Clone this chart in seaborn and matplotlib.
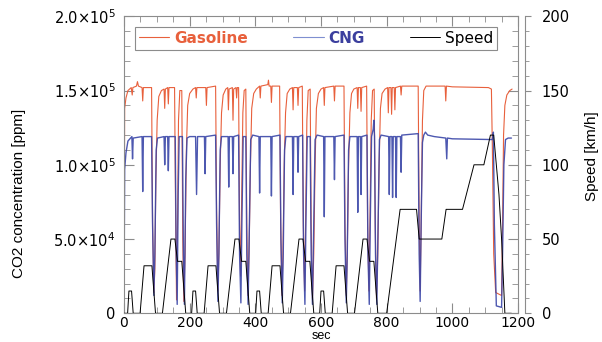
import numpy as np
import pandas as pd
import matplotlib
matplotlib.use("Agg")
import matplotlib.pyplot as plt
from matplotlib.ticker import MultipleLocator, FuncFormatter
from matplotlib.lines import Line2D
import seaborn as sns

# CO2 concentration in the exhaust, gasoline engine (sec, ppm) - breakpoints
gasoline = [
    (0, 4000), (2, 138000), (6, 145000), (12, 150000), (22, 152000), (25, 147000), (27, 152000),
    (38, 153000), (41, 156000), (44, 153000), (55, 152000), (57, 143000), (59, 152000), (84, 152000),
    (87, 60000), (91, 14000), (94, 30000), (97, 90000), (101, 130000), (106, 146000), (114, 150000),
    (122, 151000), (124, 138000), (126, 151000), (133, 152000), (135, 141000), (137, 152000),
    (154, 152000), (157, 70000), (160, 9000), (163, 60000), (166, 130000), (170, 150000),
    (176, 150000), (179, 50000), (182, 8000), (186, 40000), (190, 110000), (194, 140000),
    (200, 148000), (210, 151000), (218, 152000), (220, 145000), (222, 152000), (249, 152000),
    (251, 140000), (253, 152000), (279, 153000), (282, 70000), (286, 15000), (289, 40000),
    (293, 100000), (297, 135000), (302, 147000), (310, 151000), (316, 152000), (318, 137000),
    (320, 151000), (330, 152000), (332, 130000), (334, 151000), (341, 152000), (343, 145000),
    (345, 152000), (349, 152000), (352, 60000), (355, 25000), (358, 70000), (362, 135000),
    (366, 150000), (371, 151000), (374, 60000), (377, 12000), (381, 40000), (385, 100000),
    (389, 138000), (395, 148000), (403, 151000), (413, 153000), (415, 145000), (417, 153000),
    (438, 154000), (440, 157000), (442, 153000), (447, 153000), (449, 142000), (451, 153000),
    (474, 153000), (477, 60000), (481, 12000), (484, 40000), (488, 100000), (492, 135000),
    (497, 148000), (505, 151000), (513, 152000), (515, 137000), (517, 152000), (528, 152000),
    (530, 140000), (532, 152000), (543, 153000), (546, 60000), (550, 15000), (553, 60000),
    (557, 130000), (561, 150000), (567, 151000), (570, 60000), (574, 10000), (578, 40000),
    (582, 100000), (586, 138000), (592, 148000), (600, 151000), (608, 152000), (610, 140000),
    (612, 152000), (639, 153000), (641, 143000), (643, 153000), (670, 153000), (673, 60000),
    (677, 12000), (680, 40000), (684, 100000), (688, 135000), (693, 148000), (700, 151000),
    (710, 152000), (712, 138000), (714, 152000), (720, 152000), (722, 136000), (724, 152000),
    (739, 153000), (742, 60000), (746, 15000), (749, 60000), (753, 130000), (757, 150000),
    (762, 151000), (765, 60000), (769, 10000), (773, 40000), (777, 100000), (781, 138000),
    (786, 148000), (795, 151000), (803, 152000), (805, 135000), (807, 152000), (813, 152000),
    (815, 134000), (817, 152000), (823, 152000), (825, 137000), (827, 152000), (842, 153000),
    (844, 147000), (846, 153000), (896, 153000), (899, 60000), (902, 15000), (905, 60000),
    (909, 130000), (913, 150000), (920, 153000), (978, 153000), (980, 143000), (982, 153000),
    (1000, 152500), (1110, 152000), (1119, 151000), (1122, 110000), (1126, 40000), (1132, 14000),
    (1150, 12000), (1153, 60000), (1156, 120000), (1160, 140000), (1166, 147000), (1175, 150000),
    (1182, 151000),
]

# CO2 concentration in the exhaust, CNG engine (sec, ppm)
cng = [
    (0, 4000), (2, 97000), (6, 108000), (12, 116000), (20, 118000), (24, 119000), (26, 104000),
    (28, 118000), (55, 119000), (57, 82000), (59, 119000), (84, 119000), (87, 60000), (91, 12000),
    (94, 40000), (98, 110000), (102, 118000), (122, 119000), (124, 100000), (126, 119000),
    (133, 119000), (135, 96000), (137, 119000), (156, 119000), (159, 40000), (162, 6000),
    (165, 80000), (168, 119000), (178, 119000), (181, 40000), (184, 6000), (188, 90000),
    (192, 118000), (200, 119000), (218, 119000), (221, 80000), (224, 119000), (245, 119000),
    (247, 94000), (249, 119000), (279, 120000), (282, 60000), (286, 8000), (289, 40000),
    (293, 110000), (297, 119000), (317, 119000), (319, 85000), (321, 119000), (330, 119000),
    (332, 94000), (334, 119000), (349, 120000), (352, 40000), (356, 7000), (359, 60000),
    (363, 119000), (371, 119000), (374, 40000), (378, 6000), (382, 60000), (386, 117000),
    (392, 120000), (411, 119000), (413, 81000), (415, 119000), (447, 119000), (449, 79000),
    (451, 119000), (475, 120000), (478, 50000), (482, 7000), (485, 40000), (489, 110000),
    (493, 119000), (513, 119000), (515, 80000), (517, 119000), (528, 119000), (530, 95000),
    (532, 119000), (544, 120000), (547, 40000), (551, 6000), (554, 60000), (558, 119000),
    (567, 119000), (570, 40000), (574, 6000), (578, 60000), (582, 117000), (588, 120000),
    (608, 119000), (610, 65000), (612, 119000), (639, 119000), (641, 90000), (643, 119000),
    (670, 120000), (673, 50000), (677, 7000), (680, 40000), (684, 110000), (688, 119000),
    (710, 119000), (712, 68000), (714, 119000), (720, 119000), (722, 80000), (724, 119000),
    (740, 120000), (743, 40000), (747, 6000), (750, 60000), (754, 119000), (759, 124000),
    (761, 130000), (763, 119000), (766, 40000), (770, 6000), (774, 60000), (778, 117000),
    (783, 120000), (806, 119000), (808, 80000), (810, 119000), (816, 119000), (818, 78000),
    (820, 119000), (827, 119000), (829, 78000), (831, 119000), (842, 119000), (844, 95000),
    (846, 120000), (896, 121000), (899, 40000), (902, 8000), (905, 60000), (909, 115000),
    (913, 120000), (918, 122000), (925, 120000), (945, 119000), (980, 118000), (983, 104000),
    (985, 118000), (1000, 117500), (1110, 117000), (1122, 117000), (1125, 122000), (1128, 60000),
    (1134, 5000), (1150, 4000), (1153, 40000), (1157, 100000), (1162, 117000), (1170, 118000),
    (1180, 118000),
]

# vehicle speed (sec, km/h) - NEDC profile
speed = [
    (0, 0), (11, 0), (15, 15), (23, 15), (28, 0), (49, 0), (61, 32), (85, 32), (96, 0),
    (117, 0), (143, 50), (155, 50), (163, 35), (176, 35), (188, 0),
    (206, 0), (210, 15), (218, 15), (223, 0), (244, 0), (256, 32), (280, 32), (291, 0),
    (312, 0), (338, 50), (350, 50), (358, 35), (371, 35), (383, 0),
    (401, 0), (405, 15), (413, 15), (418, 0), (439, 0), (451, 32), (475, 32), (486, 0),
    (507, 0), (533, 50), (545, 50), (553, 35), (566, 35), (578, 0),
    (596, 0), (600, 15), (608, 15), (613, 0), (634, 0), (646, 32), (670, 32), (681, 0),
    (702, 0), (728, 50), (740, 50), (748, 35), (761, 35), (773, 0),
    (800, 0), (841, 70), (891, 70), (899, 50), (968, 50), (981, 70), (1031, 70),
    (1066, 100), (1096, 100), (1116, 120), (1126, 120), (1142, 80), (1150, 50), (1160, 0),
    (1180, 0),
]

series_names = ["Gasoline", "CNG", "Speed"]
GAS = "#e8603c"
CNG = "#3a46a8"
AXC = "#8c8c8c"

sns.set_style("ticks")
plt.rcParams["font.family"] = ["DejaVu Sans"]

gas_df = pd.DataFrame(gasoline, columns=["sec", "co2"])
cng_df = pd.DataFrame(cng, columns=["sec", "co2"])
spd_df = pd.DataFrame(speed, columns=["sec", "kmh"])

# plot box in pixels: x 124..518, y 16.3..313.3 (from top)
fig = plt.figure(figsize=(6.02, 3.42), dpi=100)
ax = fig.add_axes([124 / 602, 1 - 313.3 / 342, 394 / 602, 297 / 342])

sns.lineplot(data=gas_df, x="sec", y="co2", ax=ax, color=GAS, lw=0.8,
             estimator=None, sort=False)
sns.lineplot(data=cng_df, x="sec", y="co2", ax=ax, color=CNG, lw=1.0,
             estimator=None, sort=False, alpha=0.9)

ax2 = ax.twinx()
sns.lineplot(data=spd_df, x="sec", y="kmh", ax=ax2, color="black", lw=0.7,
             estimator=None, sort=False)

ax.set_xlim(0, 1200)
ax.set_ylim(0, 2.0e5)
ax2.set_ylim(0, 200)

ax.xaxis.set_major_locator(MultipleLocator(200))
ax.xaxis.set_minor_locator(MultipleLocator(50))
ax.yaxis.set_major_locator(MultipleLocator(5e4))
ax.yaxis.set_minor_locator(MultipleLocator(1e4))
ax2.yaxis.set_major_locator(MultipleLocator(50))
ax2.yaxis.set_minor_locator(MultipleLocator(10))


def sci_fmt(v, pos):
    if v == 0:
        return "0"
    m, e = f"{v:.1e}".split("e")
    return rf"${m}{{\times}}10^{{{int(e)}}}$"


ax.yaxis.set_major_formatter(FuncFormatter(sci_fmt))

for a in (ax, ax2):
    for sp in a.spines.values():
        sp.set_color(AXC)
        sp.set_linewidth(0.8)
ax2.spines["right"].set_position(("outward", 5))
ax2.spines["left"].set_visible(False)
ax2.spines["top"].set_visible(False)
ax2.spines["bottom"].set_visible(False)

ax.tick_params(axis="both", which="both", direction="in", color=AXC,
               labelcolor="black", labelsize=10.5, top=True, right=True,
               labelright=False)
ax.tick_params(axis="both", which="major", length=7, width=0.8)
ax.tick_params(axis="both", which="minor", length=4, width=0.6)
ax.tick_params(axis="y", pad=6)
ax.tick_params(axis="x", pad=2, labelsize=10)
ax2.tick_params(axis="y", which="both", direction="out", color=AXC,
                labelcolor="black", labelsize=10.5, pad=8)
ax2.tick_params(axis="y", which="major", length=4, width=0.8)
ax2.tick_params(axis="y", which="minor", length=3, width=0.6)

lab_font = dict(family=["Liberation Sans", "DejaVu Sans"], size=11, color="black")
ax.set_xlabel("sec", family=["Liberation Sans", "DejaVu Sans"], size=9,
              color="black", va="bottom")
ax.set_ylabel("CO2 concentration [ppm]", **lab_font)
ax2.set_ylabel("Speed [km/h]", **lab_font)
# "sec" sits right at the bottom edge, as in the reference
ax.xaxis.set_label_coords(0.5, (313.3 - 341.6) / 297)
ax.yaxis.set_label_coords(-0.249, 0.404)
ax2.yaxis.set_label_coords(1.17, 0.528)

handles = [Line2D([], [], color=GAS, lw=0.8),
           Line2D([], [], color="#7f8fd0", lw=0.8),
           Line2D([], [], color="black", lw=0.7)]
leg = ax2.legend(handles, series_names, ncol=3, mode="expand", loc="upper left",
                 bbox_to_anchor=(135 / 602, 1 - 49 / 342, 362 / 602, 22 / 342),
                 bbox_transform=fig.transFigure, frameon=True, fancybox=False,
                 edgecolor=AXC, framealpha=1, handlelength=2.0, handletextpad=0.3,
                 borderaxespad=0, borderpad=0.25, fontsize=11)
leg.get_frame().set_linewidth(0.8)
txt = leg.get_texts()
txt[0].set_color(GAS)
txt[0].set_fontweight("bold")
txt[1].set_color("#3b3f9e")
txt[1].set_fontweight("bold")
txt[2].set_color("black")

fig.savefig("out.png", dpi=100, facecolor="white")
plt.close(fig)
